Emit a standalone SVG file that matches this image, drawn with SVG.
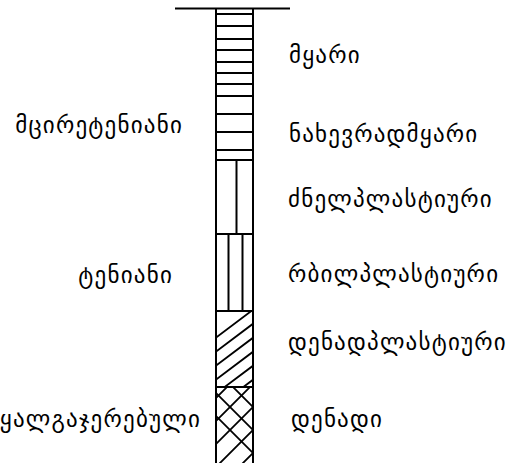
<svg xmlns="http://www.w3.org/2000/svg" width="515" height="463" viewBox="0 0 515 463">
<style>
.t{font-family:"DejaVu Sans","Noto Sans",sans-serif;font-size:23px;letter-spacing:1.2px;fill:#000}
.ln{stroke:#000;stroke-width:2;fill:none}
.h{stroke:#000;stroke-width:1.8;fill:none}
</style>
<defs>
<clipPath id="diag"><rect x="216" y="311" width="37" height="76"/></clipPath>
<clipPath id="cross"><rect x="216" y="387" width="37" height="76"/></clipPath>
</defs>
<rect width="515" height="463" fill="#fff"/>
<g id="column">
<line class="h" x1="175" y1="8.5" x2="290" y2="8.5"/>
<g class="ln">
<path d="M216 8.5V463M253 8.5V463"/>
<path d="M216 14H253M216 26H253M216 39H253M216 50H253M216 62H253M216 73H253M216 84H253M216 96H253M216 114H253M216 132H253M216 150H253M216 160H253"/>
<path d="M236.5 160V234"/>
<path d="M216 234H253M228.5 234V311M242.5 234V311"/>
<path d="M216 311H253M216 387H253"/>
</g>
<g class="h" clip-path="url(#diag)">
<path d="M206 345L266 300M206 359L266 314M206 373L266 328M206 387L266 342M206 401L266 356M206 415L266 370M206 429L266 384"/>
</g>
<g class="h" clip-path="url(#cross)">
<path d="M196 395L256 335M196 418L256 358M196 441L256 381M196 464L256 404M196 487L256 427M196 510L256 450"/>
<path d="M196 350L276 430M196 373L276 453M196 396L276 476M196 327L276 407M196 304L276 384"/>
</g>
</g>
<g id="labels-right">
<text class="t" x="289" y="63">მყარი</text>
<text class="t" x="289" y="142">ნახევრადმყარი</text>
<text class="t" x="288" y="207">ძნელპლასტიური</text>
<text class="t" x="288" y="282">რბილპლასტიური</text>
<text class="t" x="288" y="350">დენადპლასტიური</text>
<text class="t" x="291" y="427">დენადი</text>
</g>
<g id="labels-left">
<text class="t" x="183" y="133" text-anchor="end">მცირეტენიანი</text>
<text class="t" x="173" y="283" text-anchor="end">ტენიანი</text>
<text class="t" x="201" y="427" text-anchor="end">წყალგაჯერებული</text>
</g>
</svg>
